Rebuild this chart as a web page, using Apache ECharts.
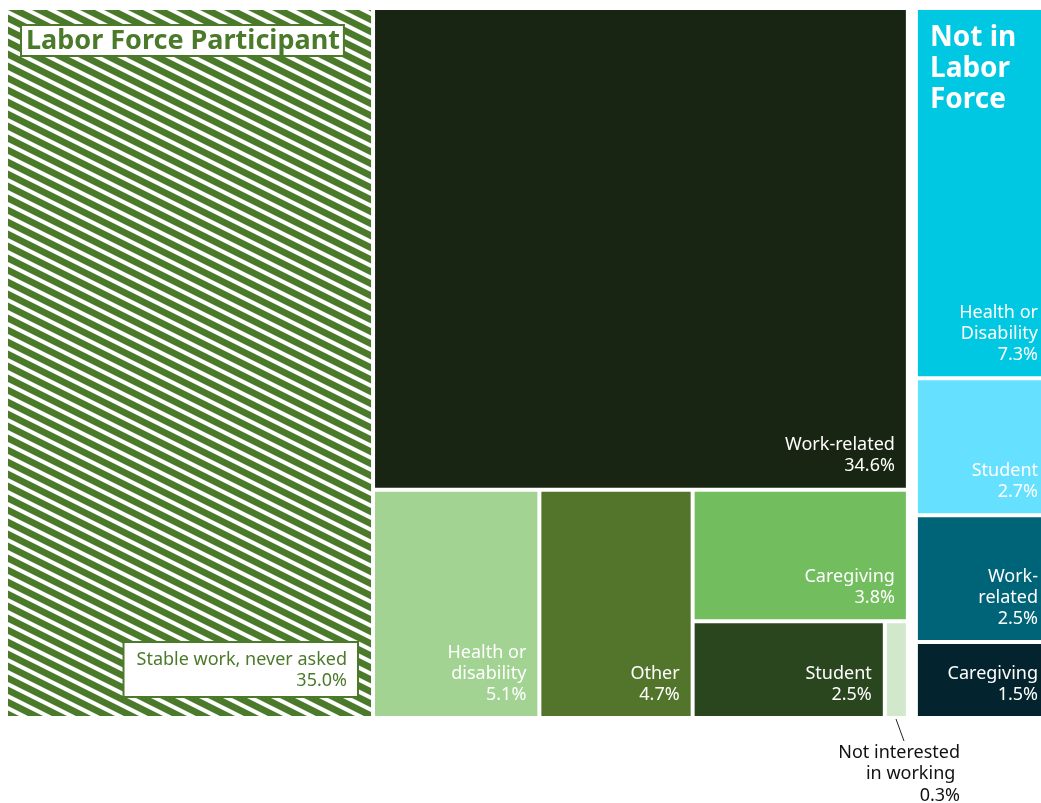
<!DOCTYPE html>
<html>
<head>
<meta charset="utf-8">
<script src="https://cdn.jsdelivr.net/npm/echarts@6/dist/echarts.min.js"></script>
<style>
  html, body { margin: 0; padding: 0; background: #fff; }
  #main { width: 1041px; height: 803px; }
</style>
</head>
<body>
<div id="main"></div>
<script>
// labor force participants
const lfNames = ['Stable work, never asked', 'Work-related', 'Health or disability', 'Other', 'Caregiving', 'Student', 'Not interested in working'];
const lfLabels = ['', 'Work-related', 'Health or\ndisability', 'Other', 'Caregiving', 'Student', ''];
const lfValues = [35.0, 34.6, 5.1, 4.7, 3.8, 2.5, 0.3];
const lfColors = ['stripes', '#182512', '#a2d393', '#52752b', '#72bd5d', '#29461e', '#d2e8cb'];

// not in labor force
const nlfNames = ['Health or Disability', 'Student', 'Work-related', 'Caregiving'];
const nlfLabels = ['Health or\nDisability', 'Student', 'Work-\nrelated', 'Caregiving'];
const nlfValues = [7.3, 2.7, 2.5, 1.5];
const nlfColors = ['#00c8e3', '#66e0ff', '#006478', '#03242f'];

const green = '#4b7a2b';
const font = '"Noto Sans", sans-serif';

// diagonal stripe tile
function stripePattern() {
  const c = document.createElement('canvas');
  c.width = 24;
  c.height = 12;
  const ctx = c.getContext('2d');
  ctx.fillStyle = green;
  ctx.fillRect(0, 0, 24, 12);
  ctx.fillStyle = '#ffffff';
  for (let k = -1; k <= 1; k++) {
    ctx.beginPath();
    ctx.moveTo(0, 12 * k);
    ctx.lineTo(24, 12 * k + 12);
    ctx.lineTo(24, 12 * k + 16.5);
    ctx.lineTo(0, 12 * k + 4.5);
    ctx.closePath();
    ctx.fill();
  }
  return { image: c, repeat: 'repeat' };
}

function leaf(name, label, value, color, shiftX) {
  return {
    name: name,
    value: value,
    itemStyle: { color: color === 'stripes' ? stripePattern() : color },
    label: {
      formatter: label ? label + '\n' + value.toFixed(1) + '%' : '',
      offset: [shiftX, 0]
    }
  };
}

const chart = echarts.init(document.getElementById('main'));

const option = {
  animation: false,
  series: [{
    type: 'treemap',
    left: 8,
    top: 10,
    width: 1046,
    height: 706,
    squareRatio: 1,
    roam: false,
    nodeClick: false,
    silent: true,
    breadcrumb: { show: false },
    label: {
      show: true,
      position: 'insideBottomRight',
      distance: 6,
      color: '#ffffff',
      fontFamily: font,
      fontSize: 18,
      lineHeight: 21,
      align: 'right'
    },
    upperLabel: { show: false },
    itemStyle: { borderWidth: 0, gapWidth: 4 },
    emphasis: { disabled: true },
    levels: [
      { itemStyle: { gapWidth: 12, borderWidth: 0 } },
      { itemStyle: { gapWidth: 4, borderWidth: 0 } },
      { itemStyle: { borderWidth: 0 } }
    ],
    data: [
      {
        name: 'Labor Force Participant',
        children: lfNames.map((n, i) => leaf(n, lfLabels[i], lfValues[i], lfColors[i], 0))
      },
      {
        name: 'Not in Labor Force',
        children: nlfNames.map((n, i) => leaf(n, nlfLabels[i], nlfValues[i], nlfColors[i], -5))
      }
    ]
  }],
  graphic: [
    {
      type: 'text',
      z: 100,
      x: 22,
      y: 26,
      style: {
        text: 'Labor Force Participant',
        fill: green,
        font: 'bold 27px ' + font,
        lineHeight: 28,
        backgroundColor: '#ffffff',
        borderColor: green,
        borderWidth: 2,
        padding: [1, 3, 0, 4],
        verticalAlign: 'top'
      }
    },
    {
      type: 'text',
      z: 100,
      x: 357,
      y: 643,
      style: {
        text: lfNames[0] + '\n' + lfValues[0].toFixed(1) + '%',
        fill: green,
        font: '18px ' + font,
        lineHeight: 21,
        align: 'right',
        verticalAlign: 'top',
        backgroundColor: '#ffffff',
        borderColor: green,
        borderWidth: 2,
        padding: [6, 10, 5, 12]
      }
    },
    {
      type: 'text',
      z: 100,
      x: 930,
      y: 23,
      style: {
        text: 'Not in\nLabor\nForce',
        fill: '#ffffff',
        font: 'bold 28px ' + font,
        lineHeight: 31,
        verticalAlign: 'top'
      }
    },
    {
      type: 'line',
      z: 100,
      shape: { x1: 896, y1: 719, x2: 904, y2: 741 },
      style: { stroke: '#222222', lineWidth: 1 }
    },
    {
      type: 'text',
      z: 100,
      x: 960,
      y: 742,
      style: {
        text: 'Not interested\nin working \n' + lfValues[6].toFixed(1) + '%',
        fill: '#111111',
        font: '18px ' + font,
        lineHeight: 21.5,
        align: 'right',
        verticalAlign: 'top'
      }
    }
  ]
};

chart.setOption(option);
</script>
</body>
</html>
